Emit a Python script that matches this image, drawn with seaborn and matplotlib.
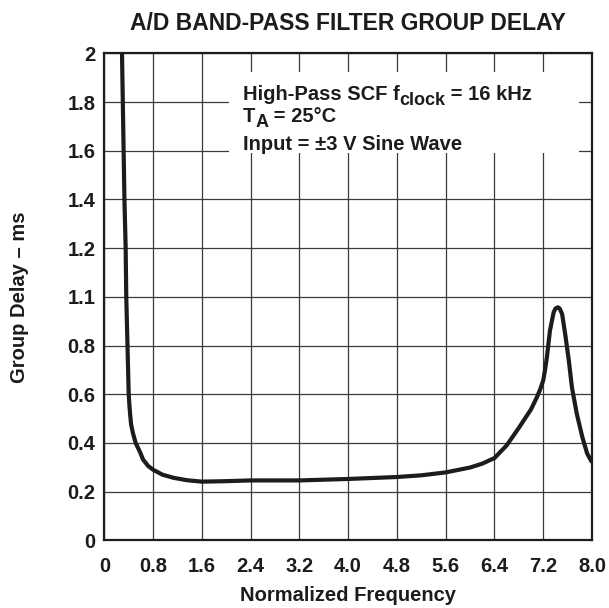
import matplotlib
matplotlib.use("Agg")
import matplotlib.pyplot as plt
from matplotlib.patches import Rectangle
import seaborn as sns
import pandas as pd

# ---- data ----
freq = [0.29, 0.31, 0.33, 0.35, 0.36, 0.38, 0.40, 0.41, 0.426, 0.44, 0.47,
        0.514, 0.59, 0.635, 0.72, 0.80, 0.95, 1.13, 1.35, 1.6, 2.0, 2.4, 3.2,
        4.0, 4.8, 5.2, 5.6, 6.0, 6.2, 6.4, 6.6, 6.8, 7.0, 7.1, 7.15, 7.2,
        7.23, 7.26, 7.31, 7.37, 7.40, 7.44, 7.47, 7.51, 7.56, 7.62, 7.67,
        7.75, 7.84, 7.92, 8.0]
delay = [2.0, 1.7, 1.4, 1.2, 1.0, 0.8, 0.6, 0.56, 0.51, 0.475, 0.44,
         0.40, 0.36, 0.332, 0.305, 0.29, 0.27, 0.257, 0.247, 0.241, 0.243,
         0.246, 0.246, 0.252, 0.26, 0.267, 0.279, 0.299, 0.315, 0.338, 0.39,
         0.462, 0.538, 0.59, 0.62, 0.657, 0.70, 0.752, 0.861, 0.936, 0.952,
         0.957, 0.952, 0.929, 0.847, 0.738, 0.629, 0.52, 0.425, 0.357, 0.32]

x_ticks = [0, 0.8, 1.6, 2.4, 3.2, 4.0, 4.8, 5.6, 6.4, 7.2, 8.0]
x_tick_labels = ["0", "0.8", "1.6", "2.4", "3.2", "4.0", "4.8", "5.6", "6.4", "7.2", "8.0"]
y_ticks = [0, 0.2, 0.4, 0.6, 0.8, 1.0, 1.2, 1.4, 1.6, 1.8, 2.0]
y_tick_labels = ["0", "0.2", "0.4", "0.6", "0.8", "1.1", "1.2", "1.4", "1.6", "1.8", "2"]

title = "A/D BAND-PASS FILTER GROUP DELAY"
x_label = "Normalized Frequency"
y_label = "Group Delay \u2013 ms"
# each note line: list of (text, is_subscript)
note_lines = [
    [("High-Pass SCF f", False), ("clock", True), (" = 16 kHz", False)],
    [("T", False), ("A", True), (" = 25\u00b0C", False)],
    [("Input = \u00b13 V Sine Wave", False)],
]

# ---- style ----
sns.set_style("white")
plt.rcParams["font.family"] = ["Liberation Sans", "DejaVu Sans"]
plt.rcParams["font.weight"] = "bold"

ink = "#1c1c1c"
fs = 14.5

fig = plt.figure(figsize=(6.09, 6.08), dpi=100)
ax = fig.add_axes([0.1713, 0.1113, 0.8008, 0.8010])

df = pd.DataFrame({"freq": freq, "delay": delay})
sns.lineplot(data=df, x="freq", y="delay", ax=ax, estimator=None, sort=False,
             color=ink, linewidth=3.0, zorder=4)
for ln in ax.lines:
    ln.set_solid_joinstyle("round")
    ln.set_solid_capstyle("butt")

ax.set_xlim(0, 8.0)
ax.set_ylim(0, 2.0)
ax.set_xticks(x_ticks)
ax.set_xticklabels(x_tick_labels)
ax.set_yticks(y_ticks)
ax.set_yticklabels(y_tick_labels)
ax.tick_params(axis="both", length=0, labelsize=fs, colors=ink)
ax.tick_params(axis="x", pad=12)
ax.tick_params(axis="y", pad=6.5)
for lab in ax.get_xticklabels() + ax.get_yticklabels():
    lab.set_fontweight("bold")

ax.grid(True, color="#3a3a3a", linewidth=0.9)
ax.set_axisbelow(True)
for s in ax.spines.values():
    s.set_linewidth(1.6)
    s.set_color(ink)
    s.set_zorder(5)

ax.set_xlabel(x_label, fontsize=fs, fontweight="bold", color=ink, labelpad=7)
ax.set_ylabel(y_label, fontsize=fs, fontweight="bold", color=ink, labelpad=27.5)
ax.set_title(title, fontsize=16.5, fontweight="bold", color=ink, pad=17)

# white note box covering the grid
ax.add_patch(Rectangle((2.05, 1.59), 5.73, 0.335, facecolor="white",
                       edgecolor="none", zorder=3))
line_bottoms = [1.791, 1.700, 1.587]
sub_drop = 3.3  # points
for pieces, yb in zip(note_lines, line_bottoms):
    prev = None
    prev_sub = False
    for txt, is_sub in pieces:
        size = 13.0 if is_sub else fs
        if prev is None:
            prev = ax.text(2.27, yb, txt, fontsize=size, fontweight="bold",
                           color=ink, va="bottom", ha="left", zorder=6)
        else:
            dy = 0.0
            if is_sub and not prev_sub:
                dy = -sub_drop
            elif prev_sub and not is_sub:
                dy = sub_drop
            prev = ax.annotate(txt, xy=(1, 0), xycoords=prev, xytext=(0, dy),
                               textcoords="offset points", fontsize=size,
                               fontweight="bold", color=ink, va="bottom",
                               ha="left", zorder=6)
        prev_sub = is_sub

fig.savefig("out.png", dpi=100)
